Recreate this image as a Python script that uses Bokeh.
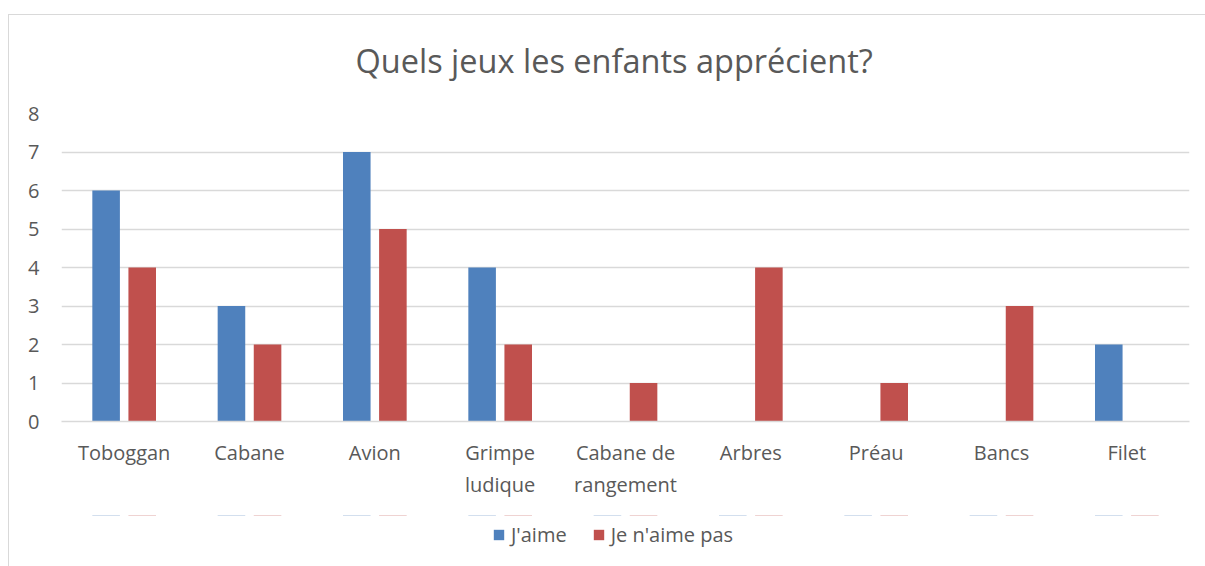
from bokeh.plotting import figure
from bokeh.layouts import column
from bokeh.models import FactorRange, Range1d, Legend, LegendItem, FixedTicker, ColumnDataSource, Label
from bokeh.transform import dodge
from bokeh.embed import file_html
from bokeh.resources import INLINE

categories = ["Toboggan", "Cabane", "Avion", "Grimpe\nludique", "Cabane de\nrangement",
              "Arbres", "Préau", "Bancs", "Filet"]
jaime = [6, 3, 7, 4, 0, 0, 0, 0, 2]
jaime_pas = [4, 2, 5, 2, 1, 4, 1, 3, 0]
y_ticks = [0, 1, 2, 3, 4, 5, 6, 7, 8]
series_names = ["J'aime", "Je n'aime pas"]
series_cols = ["a", "b"]
series_colors = ["#4F81BD", "#C0504D"]
series_offsets = [-0.144, 0.144]
chart_title = "Quels jeux les enfants apprécient?"

FONT = "Open Sans"
TXT = "#595959"
GRID = "#d9d9d9"

src = ColumnDataSource(dict(cat=categories, a=jaime, b=jaime_pas))

# title strip (pixel-sized ranges)
tf = figure(x_range=Range1d(0, 1128), y_range=Range1d(0, 84), width=1196, height=84,
            output_backend="svg", toolbar_location=None, min_border=0,
            x_axis_type=None, y_axis_type=None)
tf.outline_line_color = None
tf.xgrid.grid_line_color = None
tf.ygrid.grid_line_color = None
tf.add_layout(Label(x=294, y=39, text=chart_title, text_align="left", text_baseline="alphabetic",
                    text_font=FONT, text_font_size="32.5px", text_color=TXT))

p = figure(x_range=FactorRange(factors=categories), y_range=Range1d(0, 8),
           width=1196, height=416, output_backend="svg", toolbar_location=None,
           min_border_left=52, min_border_right=16, min_border_top=14, min_border_bottom=94)
p.outline_line_color = None

for col, color, off in zip(series_cols, series_colors, series_offsets):
    p.vbar(x=dodge("cat", off, range=p.x_range), top=col, width=0.22, source=src,
           fill_color=color, line_color=None)

p.xgrid.grid_line_color = None
p.ygrid.grid_line_color = GRID
p.ygrid.grid_line_width = 1.5
p.yaxis.ticker = FixedTicker(ticks=y_ticks)
p.yaxis.axis_line_color = None
p.yaxis.major_tick_line_color = None
p.yaxis.minor_tick_line_color = None
p.yaxis.major_label_standoff = 16
p.xaxis.axis_line_color = GRID
p.xaxis.axis_line_width = 1.5
p.xaxis.major_tick_line_color = None
p.xaxis.major_label_standoff = 11
for ax in (p.xaxis, p.yaxis):
    ax.major_label_text_font = FONT
    ax.major_label_text_font_size = "20px"
    ax.major_label_text_color = TXT

# legend strip below the chart (zero-height bars, only the legend shows)
lf = figure(x_range=p.x_range, y_range=Range1d(-2, -1), width=1196, height=51,
            output_backend="svg", toolbar_location=None,
            min_border=0, x_axis_type=None, y_axis_type=None)
lf.outline_line_color = None
lf.xgrid.grid_line_color = None
lf.ygrid.grid_line_color = None
items = []
for name, col, color, off in zip(series_names, series_cols, series_colors, series_offsets):
    r = lf.vbar(x=dodge("cat", off, range=lf.x_range), top=col, bottom=col, width=0.22,
                source=src, fill_color=color, line_color=None)
    items.append(LegendItem(label=name, renderers=[r]))
legend = Legend(items=items, location=(431, 18), orientation="horizontal",
                glyph_width=13, glyph_height=13, label_standoff=6, spacing=25,
                padding=0, margin=0, border_line_color=None, background_fill_alpha=0,
                label_text_font=FONT, label_text_font_size="20px", label_text_color=TXT)
lf.add_layout(legend)

layout = column(tf, p, lf, spacing=0)
layout.styles = {"border-top": f"1px solid {GRID}", "border-left": f"1px solid {GRID}",
                 "margin-top": "14px", "margin-left": "8px"}

open("out.html", "w").write(file_html(layout, INLINE))
